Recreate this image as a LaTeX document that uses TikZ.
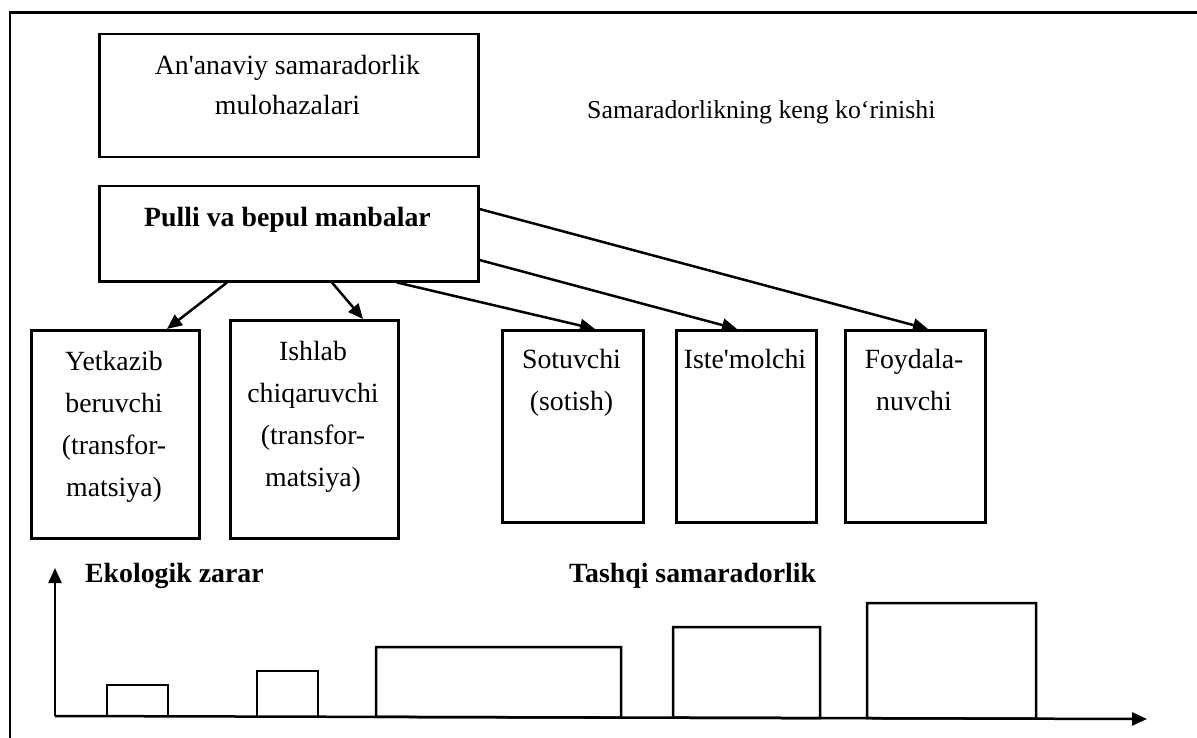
\documentclass[tikz,border=0pt]{standalone}
\usepackage{fontspec}
\newfontfamily\tnr{Liberation Serif}
\usetikzlibrary{arrows.meta}

\tikzset{
  box/.style={draw, line width=2.5pt, inner sep=0pt, anchor=north west},
  txt/.style={font=\tnr\fontsize{27.8}{42}\selectfont, align=center, anchor=base, inner sep=0pt},
  btxt/.style={font=\tnr\bfseries\fontsize{27.8}{42}\selectfont, anchor=base west, inner sep=0pt},
  arr/.style={line width=2.5pt, -{Triangle[length=15pt,width=13pt]}},
  bar/.style={draw, line width=2.5pt},
}

\begin{document}
\begin{tikzpicture}[x=1pt, y=-1pt]
\useasboundingbox (0,0) rectangle (1197,738);

% outer frame (open at right and bottom)
\draw[line width=2.5pt] (10,738) -- (10,12.5) -- (1197,12.5);

% top boxes (multi-line texts are placed by the baseline of their last line)
\node[box, minimum width=379pt, minimum height=123pt] (trad) at (98,33) {};
\node[txt, font=\tnr\fontsize{27.8}{40}\selectfont] (tradt) at (287.5,115)
  {An'anaviy samaradorlik\\mulohazalari};
\node[font=\tnr\fontsize{25.8}{38}\selectfont, anchor=base west, inner sep=0pt] (broad) at (587,119)
  {Samaradorlikning keng ko‘rinishi};

\node[box, minimum width=379pt, minimum height=95pt] (res) at (98,185) {};
\node[txt, font=\tnr\bfseries\fontsize{27.8}{42}\selectfont] (rest) at (287.5,227)
  {Pulli va bepul manbalar};

% chain boxes
\node[box, minimum width=168pt, minimum height=208pt] (sup) at (30,329) {};
\node[txt] (supt) at (114,496) {Yetkazib\\beruvchi\\(transfor-\\matsiya)};

\node[box, minimum width=168pt, minimum height=218pt] (man) at (229,319) {};
\node[txt] (mant) at (313,486) {Ishlab\\chiqaruvchi\\(transfor-\\matsiya)};

\node[box, minimum width=141pt, minimum height=192pt] (sel) at (501,329) {};
\node[txt] (selt) at (571.5,410) {Sotuvchi\\(sotish)};

\node[box, minimum width=140pt, minimum height=192pt] (con) at (675,329) {};
\node[txt] (cont) at (745,368) {Iste'molchi};

\node[box, minimum width=140pt, minimum height=192pt] (usr) at (844,329) {};
\node[txt] (usrt) at (914,410) {Foydala-\\nuvchi};

% connectors
\draw[arr] ([xshift=129pt]res.south west) -- ([xshift=137pt]sup.north west);
\draw[arr] ([xshift=234pt]res.south west) -- ([xshift=134pt]man.north west);
\draw[arr] ([xshift=299pt]res.south west) -- ([xshift=94pt]sel.north west);
\draw[arr] ([yshift=-75pt]res.north east) -- ([xshift=62pt]con.north west);
\draw[arr] ([yshift=-24pt]res.north east) -- ([xshift=84pt]usr.north west);

% axes
\coordinate (O) at (55,716);
\coordinate (ytip) at (55,568);
\coordinate (xtip) at (1147,719);
\draw[arr] (O) -- (ytip);
\draw[arr] (O) -- (xtip);

% bars
\draw[bar] (107,716.1) -- (107,685) -- (168,685) -- (168,716.3);
\draw[bar] (257,716.5) -- (257,671) -- (318,671) -- (318,716.7);
\draw[bar] (376,716.9) -- (376,647) -- (621,647) -- (621,717.6) -- cycle;
\draw[bar] (673,717.7) -- (673,627) -- (820,627) -- (820,718.1) -- cycle;
\draw[bar] (867,718.2) -- (867,603) -- (1036,603) -- (1036,718.7) -- cycle;

% axis labels
\node[btxt] (eco) at (85,582) {Ekologik zarar};
\node[btxt] (ext) at (569,582) {Tashqi samaradorlik};
\end{tikzpicture}
\end{document}
